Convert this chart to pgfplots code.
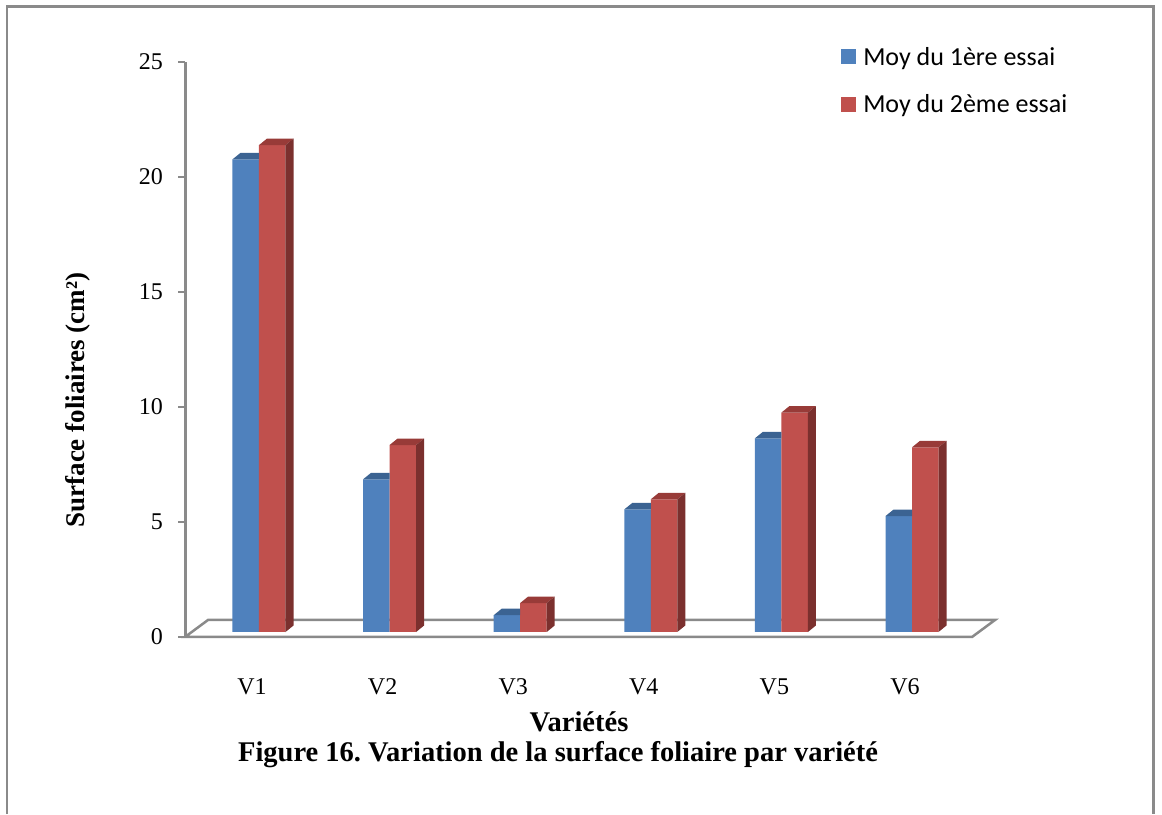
\documentclass[border=0pt]{standalone}
\usepackage{pgfplots}
\pgfplotsset{compat=1.18}
\usepackage{pgfplotstable}
\usepackage{fontspec}
\setmainfont{Liberation Serif}
\newfontfamily\legendfont{Carlito}
\frenchspacing

\definecolor{frontA}{HTML}{4F81BD}
\definecolor{topA}{HTML}{3B6392}
\definecolor{frontB}{HTML}{C0504D}
\definecolor{topB}{HTML}{983B38}
\definecolor{sideB}{HTML}{7B302E}
\definecolor{axisgray}{HTML}{8A8A8A}

% mean leaf area (cm^2) per variety, two trials
\pgfplotstableread{
x  essai1 essai2
1  20.55  21.17
2  6.64   8.13
3  0.73   1.26
4  5.33   5.77
5  8.42   9.54
6  5.04   8.03
}\surface

% an empty plot mark: the scatter code below draws everything
\pgfdeclareplotmark{emptymark}{}

\pgfplotsset{
  % top face of the first column, the part left of the second column
  facesleft/.style n args={2}{
    scatter, only marks, mark=emptymark, forget plot,
    xshift=7pt, yshift=5pt,
    scatter/@pre marker code/.code={
      \pgfmathsetmacro\xl{#1-13.25}
      \pgfmathsetmacro\xr{#1+13.25}
      \pgfpathmoveto{\pgfpoint{\xl pt}{0pt}}
      \pgfpathlineto{\pgfpoint{\xr pt}{0pt}}
      \pgfpathlineto{\pgfpoint{\xr pt}{6.5pt}}
      \pgfpathlineto{\pgfpoint{\xl pt+8pt}{6.5pt}}
      \pgfpathclose
      \pgfsetfillcolor{#2}\pgfusepath{fill}
    },
    scatter/@post marker code/.code={},
  },
  % top and side faces of the second column
  facesright/.style n args={3}{
    scatter, only marks, mark=emptymark, forget plot,
    xshift=7pt, yshift=5pt,
    visualization depends on={rawy \as \colval},
    scatter/@pre marker code/.code={
      \pgfmathsetmacro\xl{#1-13.25}
      \pgfmathsetmacro\xr{#1+13.25}
      \pgfmathsetmacro\hh{\colval*23}
      \pgfpathmoveto{\pgfpoint{\xl pt}{0pt}}
      \pgfpathlineto{\pgfpoint{\xr pt}{0pt}}
      \pgfpathlineto{\pgfpoint{\xr pt+8pt}{6.5pt}}
      \pgfpathlineto{\pgfpoint{\xl pt+8pt}{6.5pt}}
      \pgfpathclose
      \pgfsetfillcolor{#2}\pgfusepath{fill}
      \pgfpathmoveto{\pgfpoint{\xr pt}{0pt}}
      \pgfpathlineto{\pgfpoint{\xr pt+8pt}{6.5pt}}
      \pgfpathlineto{\pgfpoint{\xr pt+8pt}{6.5pt-\hh pt}}
      \pgfpathlineto{\pgfpoint{\xr pt}{-\hh pt}}
      \pgfpathclose
      \pgfsetfillcolor{#3}\pgfusepath{fill}
    },
    scatter/@post marker code/.code={},
  },
  colfront/.style n args={2}{
    ybar, bar width=26.5pt, bar shift=#1pt, fill=#2, draw=none,
    xshift=7pt, yshift=5pt,
  },
}

\begin{document}
\begin{tikzpicture}
\path[use as bounding box] (0pt,0pt) rectangle (1162pt,814pt);
% page frame
\draw[axisgray, line width=2.5pt] (7pt,0pt) -- (7pt,807.5pt) -- (1153.5pt,807.5pt) -- (1153.5pt,0pt);

\begin{axis}[
  at={(185pt,177pt)}, anchor=south west,
  scale only axis, width=787pt, height=575pt,
  xmin=0.487, xmax=6.513, ymin=0, ymax=25,
  clip=false,
  axis lines*=left,
  x axis line style={draw=none},
  y axis line style={axisgray, line width=3pt},
  xtick={1,...,6},
  xticklabels={V1,V2,V3,V4,V5,V6},
  xtick style={draw=none},
  ytick={0,5,...,25},
  ytick style={axisgray, line width=2pt},
  major tick length=7pt,
  tick align=outside,
  /pgf/number format/assume math mode=true,
  tick label style={font=\fontsize{24}{28}\selectfont},
  xticklabel style={anchor=base, yshift=-51pt},
  yticklabel style={anchor=east, inner sep=0pt, xshift=-15pt},
  legend style={
    at={(axis description cs:0.8336,1.026)}, anchor=north west,
    draw=none, fill=none, inner sep=0pt, row sep=28pt,
    font=\legendfont\fontsize{26}{30}\selectfont,
    nodes={inner sep=0pt},
  },
  legend cell align=left,
  legend image code/.code={\fill[#1,xshift=-7pt,yshift=-5pt] (0pt,-7pt) rectangle (15pt,8pt);},
]
% floor of the chart
\draw[axisgray, line width=2.5pt]
  (axis cs:0.487,0) -- (axis cs:6.513,0) -- ++(23pt,17pt)
  -- ([shift={(23pt,17pt)}]axis cs:0.487,0) -- cycle;

\addplot[colfront={-13.25}{frontA}] table[x=x, y=essai1] {\surface};
\addlegendentry{\hspace{7pt}Moy du 1ère essai}
\addplot[facesleft={-13.25}{topA}] table[x=x, y=essai1] {\surface};
\addplot[colfront={13.25}{frontB}] table[x=x, y=essai2] {\surface};
\addlegendentry{\hspace{7pt}Moy du 2ème essai}
\addplot[facesright={13.25}{topB}{sideB}] table[x=x, y=essai2] {\surface};
\end{axis}

\node[rotate=90, font=\bfseries\fontsize{27}{30}\selectfont] at (78pt,414pt) {Surface foliaires (cm²)};
\node[anchor=base, font=\bfseries\fontsize{28.5}{32}\selectfont, inner sep=0pt] at (579pt,82.3pt) {Variétés};
\node[anchor=base, font=\bfseries\fontsize{28.5}{32}\selectfont, inner sep=0pt] at (558pt,52.3pt) {Figure 16. Variation de la surface foliaire par variété};
\end{tikzpicture}
\end{document}
